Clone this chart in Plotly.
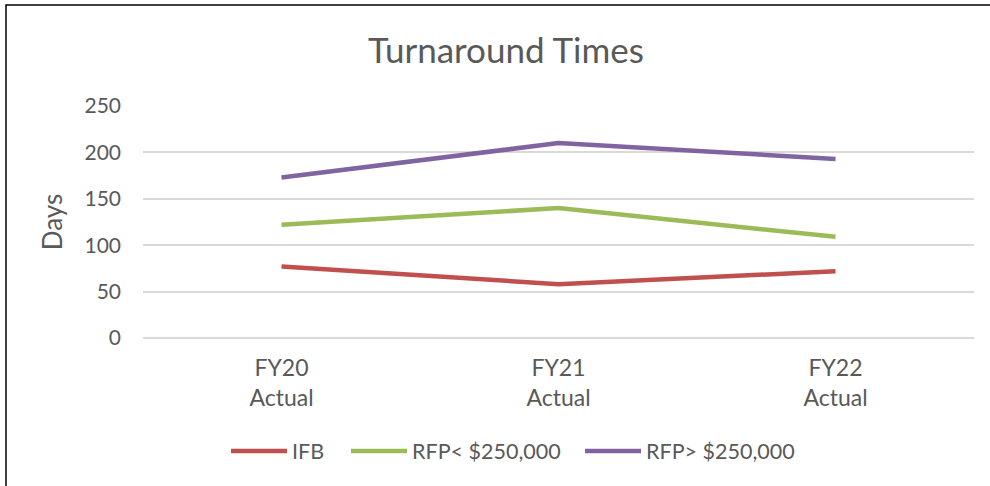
import plotly.graph_objects as go

categories = ["FY20<br>Actual", "FY21<br>Actual", "FY22<br>Actual"]
ifb = [77, 58, 72]
rfp_small = [122, 140, 109]
rfp_large = [173, 210, 193]
y_ticks = [0, 50, 100, 150, 200, 250]

series = [
    ("IFB", ifb, "#C0504D"),
    ("RFP< $250,000", rfp_small, "#9BBB59"),
    ("RFP> $250,000", rfp_large, "#8064A2"),
]

FONT = "Lato, Carlito, Calibri, sans-serif"
TXT = "#595959"
GRID = "#D9D9D9"

L, R, T, B = 143, 16, 106, 148
W, H = 990, 486
pw, ph = W - L - R, H - T - B

def px_x(p):
    return (p - L) / pw

def px_y(p):
    return (H - B - p) / ph

legend_ids = ["legend", "legend2", "legend3"]
legend_starts = [232, 352, 586]

fig = go.Figure()
for (name, vals, col), lid in zip(series, legend_ids):
    fig.add_trace(go.Scatter(
        x=categories, y=vals, name=name, mode="lines",
        line=dict(color=col, width=4.5), cliponaxis=False, legend=lid,
    ))

legend_common = dict(orientation="h", xanchor="left", y=px_y(451),
                     yanchor="middle", font=dict(size=21.5, color=TXT),
                     itemwidth=56, bgcolor="rgba(0,0,0,0)")

layout_legends = {}
for lid, xs in zip(legend_ids, legend_starts):
    layout_legends[lid] = dict(legend_common, x=px_x(xs - 6))

fig.update_layout(
    width=W, height=H,
    margin=dict(l=L, r=R, t=T, b=B),
    paper_bgcolor="white", plot_bgcolor="white",
    font=dict(family=FONT, color=TXT, size=21),
    title=dict(text="Turnaround Times", x=0.511, xanchor="center",
               y=1 - 51 / H, yanchor="middle",
               font=dict(size=35, color=TXT, family=FONT)),
    xaxis=dict(type="category", range=[-0.5, 2.5], showgrid=False,
               showline=False, zeroline=False, ticks="",
               ticklabelstandoff=14,
               tickfont=dict(size=23, color=TXT)),
    yaxis=dict(range=[0, 250], tickvals=y_ticks, showgrid=True,
               gridcolor=GRID, gridwidth=1.5, zeroline=True,
               zerolinecolor=GRID, zerolinewidth=1.5,
               showline=False, ticks="", ticklabelstandoff=21,
               tickfont=dict(size=21, color=TXT),
               title=dict(text="Days", standoff=14,
                          font=dict(size=26, color=TXT))),
    showlegend=True,
    **layout_legends,
)

fig.add_shape(type="rect", xref="paper", yref="paper",
              x0=px_x(6), x1=px_x(1000), y0=px_y(500), y1=px_y(5),
              line=dict(color="black", width=1.5), fillcolor="rgba(0,0,0,0)",
              layer="above")

fig.write_html("out.html", config={"displayModeBar": False},
               post_script="document.body.style.margin='0';")
